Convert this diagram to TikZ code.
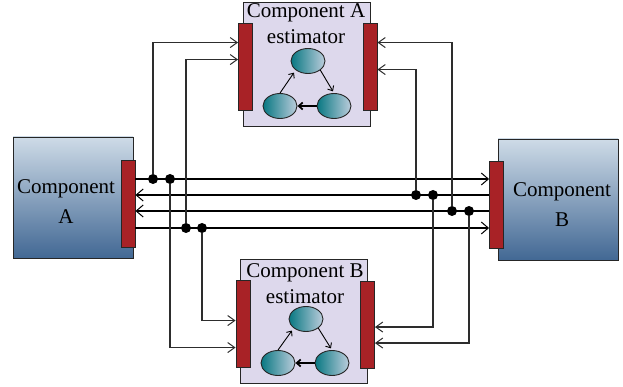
\documentclass[tikz,border=0pt]{standalone}
\usepackage{fontspec}
\setmainfont{Liberation Serif}
\usetikzlibrary{positioning}
\usetikzlibrary{calc}
\usetikzlibrary{arrows.meta,shapes.geometric}

\definecolor{portred}{RGB}{168,34,38}
\definecolor{boxtop}{RGB}{206,219,231}
\definecolor{boxbottom}{RGB}{66,104,148}
\definecolor{estfill}{RGB}{221,216,236}
\definecolor{tealdark}{RGB}{8,120,130}
\definecolor{teallight}{RGB}{188,205,220}
\definecolor{wire}{RGB}{45,45,45}

\begin{document}
\begin{tikzpicture}[x=1pt,y=-1pt,font=\fontsize{21}{26}\selectfont]
\tikzstyle{component}=[rectangle,draw=black!85,line width=0.9pt,minimum width=120pt,minimum height=121pt,top color=boxtop,bottom color=boxbottom]
\tikzstyle{estimator}=[rectangle,draw=black!85,line width=0.9pt,fill=estfill,minimum width=127pt,minimum height=124pt]
\tikzstyle{port}=[rectangle,draw=black!85,line width=0.9pt,fill=portred,minimum width=14pt,minimum height=87pt,inner sep=0pt]
\tikzstyle{bubble}=[ellipse,draw=black!85,line width=0.9pt,left color=tealdark,right color=teallight,minimum width=34pt,minimum height=25pt,inner sep=0pt]
\tikzstyle{dot}=[circle,fill=black,minimum size=10pt,inner sep=0pt]
\tikzstyle{boxtext}=[align=center,inner sep=0pt,anchor=north]
\tikzstyle{bus}=[line width=1.8pt,-{Straight Barb[length=7pt,width=12pt,line width=1pt]}]
\tikzstyle{tap}=[draw=wire,line width=1.2pt,-{Straight Barb[length=7pt,width=10pt,line width=1pt]}]
\tikzstyle{inner}=[line width=0.9pt,-{Straight Barb[length=4pt,width=7pt]}]
\useasboundingbox (0,0) rectangle (623,387);

\node[component](compA) at (73,197.5){};
\node[component](compB) at (558,199.5){};
\node[boxtext](txtA) at (66,179){Component\\[4pt]A};
\node[boxtext](txtB) at (562,182){Component\\[4pt]B};
\node[port](portA) at (128,204){};
\node[port](portB) at (496.5,205){};

\node[estimator](estA) at (306.5,64){};
\node[boxtext](titleA) at (306,3){Component A\\estimator};
\node[port](portAL) at (245.5,66.5){};
\node[port](portAR) at (370,66.5){};
\node[bubble](sAt) at (308,61){};
\node[bubble](sAl) at (280,106){};
\node[bubble](sAr) at (334,106){};
\draw[inner,shorten >=3pt] (sAl.north) -- (sAt.south west);
\draw[inner,shorten >=2pt] (sAt.south east) -- (sAr.north);
\draw[inner,line width=1.7pt] (sAr.west) -- (sAl.east);

\node[estimator](estB) at (304,321){};
\node[boxtext](titleB) at (305,263){Component B\\estimator};
\node[port](portBL) at (243,323.5){};
\node[port](portBR) at (367.5,325){};
\node[bubble](sBt) at (306,319){};
\node[bubble](sBl) at (278,363){};
\node[bubble](sBr) at (332,363){};
\draw[inner,shorten >=3pt] (sBl.north) -- (sBt.south west);
\draw[inner,shorten >=2pt] (sBt.south east) -- (sBr.north);
\draw[inner,line width=1.7pt] (sBr.west) -- (sBl.east);

\node[dot](d1) at (153,179){};
\node[dot](d2) at (170,179){};
\node[dot](d3) at (186,228){};
\node[dot](d4) at (202,228){};
\node[dot](d5) at (416,195){};
\node[dot](d6) at (433,195){};
\node[dot](d7) at (452,211){};
\node[dot](d8) at (469,211){};

\draw[bus] (portA.east |- d1) -- (portB.west |- d1);
\draw[bus] (portB.west |- d5) -- (portA.east |- d5);
\draw[bus] (portB.west |- d7) -- (portA.east |- d7);
\draw[bus] (portA.east |- d3) -- (portB.west |- d3);

\draw[tap] (d1) |- ($(portAL.north west)+(0,20)$);
\draw[tap] (d3) |- ($(portAL.north west)+(0,37)$);
\draw[tap] (d2) |- ($(portBL.north west)+(0,68)$);
\draw[tap] (d4) |- ($(portBL.north west)+(0,41)$);
\draw[tap] (d7) |- ($(portAR.north east)+(0,20)$);
\draw[tap] (d5) |- ($(portAR.north east)+(0,47)$);
\draw[tap] (d6) |- ($(portBR.north east)+(0,46)$);
\draw[tap] (d8) |- ($(portBR.north east)+(0,62)$);
\end{tikzpicture}
\end{document}
